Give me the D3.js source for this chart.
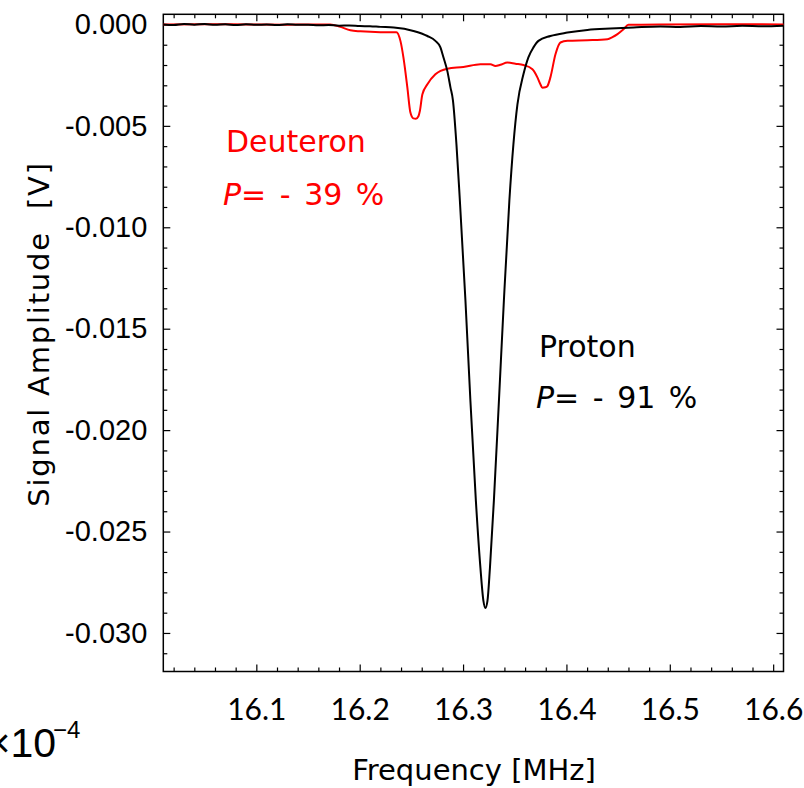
<!DOCTYPE html>
<html>
<head>
<meta charset="utf-8">
<script src="https://cdn.jsdelivr.net/npm/d3@7"></script>
<style>
  html, body { margin: 0; padding: 0; background: #fff; }
  svg { display: block; }
</style>
</head>
<body>
<svg id="chart" width="804" height="788"></svg>
<script>
// ---------- data ----------
const protonFreq = [16.010,16.020,16.030,16.040,16.050,16.060,16.070,16.080,16.090,16.100,
  16.110,16.120,16.130,16.140,16.150,16.160,16.170,16.180,16.190,16.200,16.210,16.220,16.233,
  16.252,16.2655,16.2732,16.2781,16.2810,16.2848,16.2878,16.2902,16.2936,16.2969,16.3023,
  16.3071,16.3124,16.3168,16.3197,16.3216,16.3236,16.3260,16.3298,16.3347,16.3395,16.3448,
  16.3487,16.3526,16.3584,16.3632,16.3681,16.3729,16.3845,16.4010,16.4203,16.4426,16.4649,
  16.4910,16.510,16.530,16.550,16.570,16.590,16.610];
const protonSignal = [0.00000,-0.00003,0.00002,-0.00001,0.00002,-0.00002,0.00001,-0.00003,0.00001,-0.00002,
  0.00000,-0.00003,0.00001,-0.00002,-0.00001,-0.00004,-0.00003,-0.00006,-0.00005,-0.00008,-0.00009,-0.00012,-0.00015,
  -0.00032,-0.00057,-0.00081,-0.00113,-0.00162,-0.00230,-0.00310,-0.00374,-0.00591,-0.00868,-0.01361,
  -0.01855,-0.02349,-0.02679,-0.02842,-0.02877,-0.02842,-0.02679,-0.02349,-0.01855,-0.01361,-0.00868,
  -0.00591,-0.00394,-0.00246,-0.00162,-0.00113,-0.00081,-0.00057,-0.00040,-0.00027,-0.00020,-0.00015,
  -0.00010,-0.00012,-0.00008,-0.00010,-0.00007,-0.00009,-0.00006];

const deuteronFreq = [16.010,16.050,16.094,16.130,16.1716,16.1813,16.1910,16.2007,16.2200,16.2355,
  16.2394,16.2423,16.2461,16.2490,16.2519,16.2544,16.2568,16.2582,16.2606,16.2655,16.2732,16.2848,
  16.3003,16.3168,16.3265,16.3313,16.3361,16.3429,16.3506,16.3584,16.3671,16.3719,16.3748,16.3768,
  16.3797,16.3816,16.3845,16.3894,16.3942,16.4010,16.4203,16.4397,16.4445,16.4494,16.4552,16.4600,
  16.4910,16.550,16.610];
const deuteronSignal = [0.00000,0.00001,0.00000,-0.00001,0.00000,-0.00012,-0.00029,-0.00034,-0.00038,-0.00038,
  -0.00081,-0.00162,-0.00310,-0.00433,-0.00463,-0.00465,-0.00453,-0.00427,-0.00345,-0.00295,-0.00246,-0.00218,
  -0.00210,-0.00196,-0.00196,-0.00205,-0.00199,-0.00188,-0.00194,-0.00200,-0.00221,-0.00261,-0.00295,-0.00312,
  -0.00310,-0.00304,-0.00261,-0.00147,-0.00089,-0.00081,-0.00078,-0.00073,-0.00063,-0.00048,-0.00024,-0.00002,
  0.00000,0.00001,0.00000];

const xMajorTicks = [16.1,16.2,16.3,16.4,16.5,16.6];
const xTickLabels = ["16.1","16.2","16.3","16.4","16.5","16.6"];
const yMajorTicks = [0,-0.005,-0.010,-0.015,-0.020,-0.025,-0.030];
const yTickLabels = ["0.000","-0.005","-0.010","-0.015","-0.020","-0.025","-0.030"];

// ---------- layout ----------
const svg = d3.select("#chart");
const L = 163.3, R = 783.5, T = 14.3, B = 671.5;
const comic = "'Comic Sans MS','DejaVu Sans',sans-serif";
const tickFont = "'Comic Sans MS','Lato',sans-serif";
const arial = "'Liberation Sans',Arial,sans-serif";

const x = d3.scaleLinear().domain([16.01, 16.61]).range([L, R]);
const y = d3.scaleLinear().domain([-0.0319, 0.0005]).range([B, T]);

const xMinor = d3.range(16.02, 16.61, 0.02).map(v => +v.toFixed(2)).filter(v => Math.abs(v*10 - Math.round(v*10)) > 1e-6);
const yMinor = d3.range(-31, 1, 1).map(v => v/1000).filter(v => Math.round(v*1000) % 5 !== 0);

// bottom
svg.append("g").attr("transform", `translate(0,${B})`)
  .call(d3.axisBottom(x).tickValues(xMinor).tickSize(-4).tickFormat(""));
const gxb = svg.append("g").attr("transform", `translate(0,${B})`)
  .call(d3.axisBottom(x).tickValues(xMajorTicks).tickSize(-7).tickPadding(27)
    .tickFormat((d,i) => xTickLabels[i]));
gxb.selectAll("text").style("font-family", tickFont).style("font-size", "30px").attr("fill", "#000");
// top
svg.append("g").attr("transform", `translate(0,${T})`)
  .call(d3.axisTop(x).tickValues(xMinor).tickSize(-4).tickFormat(""));
svg.append("g").attr("transform", `translate(0,${T})`)
  .call(d3.axisTop(x).tickValues(xMajorTicks).tickSize(-7).tickFormat(""));
// left
svg.append("g").attr("transform", `translate(${L},0)`)
  .call(d3.axisLeft(y).tickValues(yMinor).tickSize(-4).tickFormat(""));
const gyl = svg.append("g").attr("transform", `translate(${L},0)`)
  .call(d3.axisLeft(y).tickValues(yMajorTicks).tickSize(-7).tickPadding(16)
    .tickFormat((d,i) => yTickLabels[i]));
gyl.selectAll("text").style("font-family", arial).style("font-size", "29px").attr("fill", "#000");
// right
svg.append("g").attr("transform", `translate(${R},0)`)
  .call(d3.axisRight(y).tickValues(yMinor).tickSize(-4).tickFormat(""));
svg.append("g").attr("transform", `translate(${R},0)`)
  .call(d3.axisRight(y).tickValues(yMajorTicks).tickSize(-7).tickFormat(""));

svg.selectAll(".domain").remove();
svg.selectAll(".tick line").attr("stroke", "#000").attr("stroke-width", 1.2);

// frame
svg.append("rect").attr("x", L).attr("y", T).attr("width", R - L).attr("height", B - T)
  .attr("fill", "none").attr("stroke", "#000").attr("stroke-width", 1.5);

// lines
const line = d3.line().x(d => x(d[0])).y(d => y(d[1])).curve(d3.curveMonotoneX);
const protonData = protonFreq.map((f,i) => [f, protonSignal[i]]);
const deuteronData = deuteronFreq.map((f,i) => [f, deuteronSignal[i]]);

svg.append("path").datum(deuteronData).attr("d", line)
  .attr("fill", "none").attr("stroke", "#ff0000").attr("stroke-width", 2);
svg.append("path").datum(protonData).attr("d", line)
  .attr("fill", "none").attr("stroke", "#000").attr("stroke-width", 2);

// annotations
function label(xp, yp, gap, name, pol, color) {
  svg.append("text").attr("x", xp + 3).attr("y", yp).attr("fill", color)
    .style("font-family", comic).style("font-size", "30px").text(name);
  const t = svg.append("text").attr("x", xp).attr("y", yp + gap).attr("fill", color)
    .style("font-family", comic).style("font-size", "30px").style("word-spacing", "4px");
  t.append("tspan").style("font-style", "italic").text("P");
  t.append("tspan").text("= - " + pol + " %");
}
label(223, 152, 53, "Deuteron", "39", "#ff0000");
label(536, 357, 51, "Proton", "91", "#000");

// axis titles
svg.append("text").attr("x", 474).attr("y", 780).attr("text-anchor", "middle")
  .style("font-family", comic).style("font-size", "29px").attr("fill", "#000")
  .text("Frequency [MHz]");
svg.append("text").attr("transform", "translate(49,334) rotate(-90)").attr("text-anchor", "middle")
  .style("font-family", comic).style("font-size", "29px").style("white-space", "pre")
  .style("letter-spacing", "1.8px").attr("fill", "#000")
  .text("Signal Amplitude  [V]");

// stray exponent text at bottom-left
svg.append("text").attr("x", 56).attr("y", 757).attr("text-anchor", "end")
  .style("font-family", arial).style("font-size", "41px").attr("fill", "#000")
  .text("×10");
svg.append("text").attr("x", 53).attr("y", 738)
  .style("font-family", arial).style("font-size", "24px").attr("fill", "#000").text("−4");
</script>
</body>
</html>
